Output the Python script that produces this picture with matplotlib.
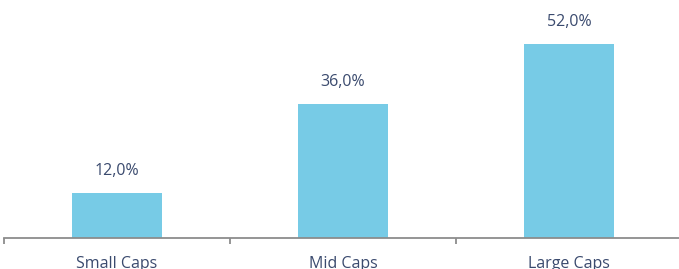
import matplotlib.pyplot as plt

plt.rcParams["font.family"] = ["Open Sans", "DejaVu Sans"]

categories = ["Small Caps", "Mid Caps", "Large Caps"]
shares = [12.0, 36.0, 52.0]

bar_color = "#77cbe6"
text_color = "#3a4a6e"
axis_color = "#8c8c8c"

fig = plt.figure(figsize=(6.79, 2.69), dpi=100)
ax = fig.add_axes([4 / 679, (269 - 238) / 269, 678 / 679, 224 / 269])

x = range(len(categories))
bars = ax.bar(x, shares, width=0.4, color=bar_color)

for b, v in zip(bars, shares):
    ax.annotate(f"{v:.1f}%".replace(".", ","),
                (b.get_x() + b.get_width() / 2, v),
                xytext=(0, 10), textcoords="offset points",
                ha="center", va="bottom", fontsize=11.5, color=text_color)

ax.set_xlim(-0.5, 2.5)
ax.set_ylim(0, 60)

for s in ["top", "right", "left"]:
    ax.spines[s].set_visible(False)
ax.spines["bottom"].set_color(axis_color)
ax.spines["bottom"].set_linewidth(1.3)

ax.set_yticks([])
ax.set_xticks(list(x))
ax.set_xticklabels(categories, fontsize=11.5, color=text_color)
ax.tick_params(axis="x", which="major", length=0, pad=13)
ax.set_xticks([-0.5, 0.5, 1.5, 2.5], minor=True)
ax.tick_params(axis="x", which="minor", length=4, width=1.3, color=axis_color)

fig.savefig("out.png", dpi=100)
